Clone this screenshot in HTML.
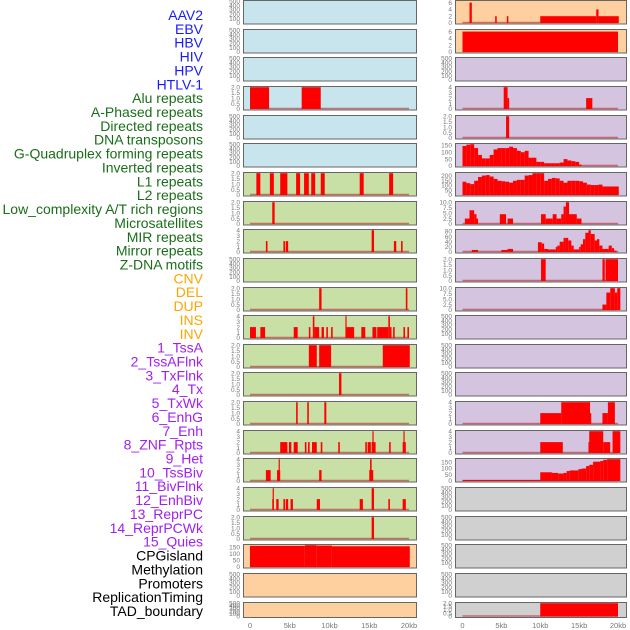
<!DOCTYPE html>
<html><head><meta charset="utf-8">
<style>
body{margin:0;background:#fff;width:630px;height:630px;overflow:hidden;font-family:"Liberation Sans",sans-serif}
svg{display:block}
</style></head>
<body>
<svg id="chart" width="630" height="630" viewBox="0 0 630 630" xmlns="http://www.w3.org/2000/svg"></svg>
<script>
// ---- labels ----
const labelNames = ["AAV2","EBV","HBV","HIV","HPV","HTLV-1","Alu repeats","A-Phased repeats","Directed repeats","DNA transposons","G-Quadruplex forming repeats","Inverted repeats","L1 repeats","L2 repeats","Low_complexity A/T rich regions","Microsatellites","MIR repeats","Mirror repeats","Z-DNA motifs","CNV","DEL","DUP","INS","INV","1_TssA","2_TssAFlnk","3_TxFlnk","4_Tx","5_TxWk","6_EnhG","7_Enh","8_ZNF_Rpts","9_Het","10_TssBiv","11_BivFlnk","12_EnhBiv","13_ReprPC","14_ReprPCWk","15_Quies","CPGisland","Methylation","Promoters","ReplicationTiming","TAD_boundary"];
const labelGroups = [6,13,5,15,5];
// ---- series data: [startKb, endKb, value] ----
const r0c2 = [[0.9,1.2,6],[4.2,4.4,2],[5.7,5.9,2],[10,17.2,2],[17.2,17.5,4],[17.5,20.1,2]];
const r1c2 = [[0,20,6]];
const r3c1 = [[0,2.4,2],[6.5,8.9,2]];
const r3c2 = [[5.3,5.8,4],[5.8,6.0,2],[15.9,16.7,2]];
const r4c2 = [[5.6,6.0,2]];
const r5c2 = [[0,0.5,145],[0.5,1,155],[1,1.5,158],[1.5,2,130],[2,2.5,80],[2.5,3,55],[3,3.5,55],[3.5,4,80],[4,4.5,120],[4.5,5,130],[5,5.5,130],[5.5,6,130],[6,6.5,140],[6.5,7,130],[7,7.5,110],[7.5,8,100],[8,8.5,110],[8.5,9,60],[9,9.5,60],[9.5,10,30],[10,10.5,30],[10.5,11,20],[11,11.5,20],[11.5,12,20],[12,12.5,20],[12.5,13,25],[13,13.5,50],[13.5,14,40],[14,14.5,35],[14.5,15,30],[15,15.3,10]];
const r6c1 = [[0.8,1.3,2],[2.5,3.0,2],[3.8,4.7,2],[5.8,6.3,2],[6.8,7.4,2],[7.7,8.2,2],[8.9,9.4,2],[13.8,14.3,2],[17.5,18,2]];
const r6c2 = [[0,0.5,140],[0.5,1,125],[1,1.5,115],[1.5,2,150],[2,2.5,190],[2.5,3,205],[3,3.5,210],[3.5,4,195],[4,4.5,170],[4.5,5,150],[5,5.5,145],[5.5,6,140],[6,6.5,130],[6.5,7,150],[7,7.5,160],[7.5,8,160],[8,8.5,205],[8.5,9,210],[9,9.5,230],[9.5,10,230],[10,10.5,230],[10.5,11,150],[11,11.5,170],[11.5,12,180],[12,12.5,175],[12.5,13,150],[13,13.5,130],[13.5,14,150],[14,14.5,150],[14.5,15,150],[15,15.5,145],[15.5,16,130],[16,16.5,110],[16.5,17,105],[17,17.5,105],[17.5,18,110],[18,20.1,90]];
const r7c1 = [[2.8,3.1,2]];
const r7c2 = [[0.3,0.9,2.5],[0.9,1.5,6.3],[1.5,1.8,4.5],[1.8,2.0,2.5],[4.8,5.6,4.5],[5.8,6.5,2.5],[10.1,10.7,4.5],[10.7,11.6,2.5],[11.6,12.1,4.5],[12.1,12.7,2.5],[12.7,13,4.5],[13,13.3,8],[13.3,13.7,10],[13.7,14.7,4.5],[14.7,15.3,2.5]];
const r8c1 = [[2.0,2.2,2],[4.2,4.4,2],[4.5,4.8,2],[15.3,15.6,4],[18.1,18.4,2],[19,19.2,2]];
const r8c2 = [[1.2,2.0,8],[5.0,5.8,8],[5.8,6.5,12],[9.7,10.2,38],[10.2,10.5,33],[10.5,11,12],[11,12,10],[12,12.2,20],[12.2,12.5,25],[12.5,13,40],[13,13.3,55],[13.3,13.6,55],[13.6,14,45],[14,14.3,25],[14.3,15,10],[15,15.2,20],[15.2,15.5,30],[15.5,15.8,50],[15.8,16.2,75],[16.2,16.5,85],[16.5,17,70],[17,17.3,45],[17.3,17.6,50],[17.6,18,25],[18,18.8,12],[18.8,19.2,25],[19.2,19.5,15],[19.5,19.8,5]];
const r9c2 = [[10.1,10.7,2],[18,18.3,2],[18.4,20,2]];
const r10c1 = [[8.7,9.0,2],[19.6,19.8,2]];
const r10c2 = [[18,18.5,2.5],[18.5,19,8],[19,19.6,10],[19.6,19.9,8],[19.9,20.3,10]];
const r11c1 = [[0,0.75,2],[1.3,1.9,2],[5.5,6.0,2],[7.4,7.6,2],[7.9,8.1,4],[8.1,8.7,2],[9.0,9.3,2],[9.6,9.8,2],[10.2,10.4,2],[12,12.1,4],[12.1,13.1,2],[14,14.5,2],[15.4,15.9,2],[16,17.4,2],[17.4,17.6,4],[17.6,17.8,2],[18,18.2,2],[19.3,19.5,2],[19.8,20,2]];
const r12c1 = [[7.4,8.4,2],[8.7,10.2,2],[16.7,20.1,2]];
const r13c1 = [[11.2,11.5,2]];
const r14c1 = [[5.8,6.0,2],[7.2,7.4,2],[9.35,9.6,2]];
const r14c2 = [[10,12.7,2],[12.7,16.4,4],[16.4,16.5,2],[18,18.7,2],[18.7,19.6,4]];
const r15c1 = [[3.8,4.7,2],[4.9,5.2,2],[5.5,6.0,2],[6.9,7.1,2],[7.3,7.5,2],[7.8,8.4,2],[8.9,9.1,2],[11.1,11.3,2],[14.5,14.7,2],[14.8,15.2,2],[15.3,15.8,2],[15.4,15.5,4],[17.5,17.7,2],[19.2,19.6,2],[19.3,19.45,4]];
const r15c2 = [[10,12.9,2],[16.2,16.3,2],[16.3,18.1,4],[18.1,19,2],[19.3,20.3,4]];
const r16c1 = [[2.0,2.6,2],[3.4,3.8,2],[3.6,3.7,4],[8.7,9.0,2],[15,15.5,2],[15.1,15.3,4]];
const r16c2 = [[0,10,8],[10,11.5,70],[11.5,12.3,65],[12.3,13,60],[13,13.4,65],[13.4,13.8,80],[13.8,14.9,85],[14.9,15.3,95],[15.3,15.9,100],[15.9,16.3,120],[16.3,16.8,130],[16.8,17.7,155],[17.7,18.1,160],[18.1,18.6,170],[18.6,20.3,175]];
const r17c1 = [[2.8,3.0,2],[2.85,2.95,4],[3.3,3.6,2],[4.2,4.4,2],[4.5,4.8,2],[5.1,5.4,2],[8.4,8.8,2],[13.8,14.2,2],[15.3,15.6,4],[17.4,17.6,2],[19.2,19.6,2]];
const r18c1 = [[15.3,15.6,2]];
const r19c1 = [[0,6.9,160],[6.9,8.4,165],[8.4,10.3,162],[10.3,20.1,157]];
const r21c2 = [[10,20,2]];
const tick500 = [0,100,200,300,400,500];
const tick2 = [0,0.5,1,1.5,2];
const tick4 = [0,1,2,3,4];
const tick6 = [0,2,4,6];
const tick150 = [0,50,100,150];
const tick200 = [0,50,100,150,200];
const tick10 = [0,2.5,5,7.5,10];
const tick80 = [0,20,40,60,80];
const xTicks = [0,5,10,15,20];
const xTickLabels = ["0","5kb","10kb","15kb","20kb"];

const BG = {b:"#c8e4ec",g:"#c8e0a6",o:"#ffd09f",p:"#d4c4e0",y:"#d0d0d0"};
// [row, col, bg, ymax, ticks, series]
const panels = [
 [0,1,'b',500,tick500,null],[0,2,'o',6.4,tick6,r0c2],
 [1,1,'b',500,tick500,null],[1,2,'o',6.4,tick6,r1c2],
 [2,1,'b',500,tick500,null],[2,2,'p',500,tick500,null],
 [3,1,'b',2,tick2,r3c1],[3,2,'p',4,tick4,r3c2],
 [4,1,'b',500,tick500,null],[4,2,'p',2,tick2,r4c2],
 [5,1,'b',500,tick500,null],[5,2,'p',158,tick150,r5c2],
 [6,1,'g',2,tick2,r6c1],[6,2,'p',230,tick200,r6c2],
 [7,1,'g',2,tick2,r7c1],[7,2,'p',10,tick10,r7c2],
 [8,1,'g',4,tick4,r8c1],[8,2,'p',85,tick80,r8c2],
 [9,1,'g',500,tick500,null],[9,2,'p',2,tick2,r9c2],
 [10,1,'g',2,tick2,r10c1],[10,2,'p',10,tick10,r10c2],
 [11,1,'g',4,tick4,r11c1],[11,2,'p',500,tick500,null],
 [12,1,'g',2,tick2,r12c1],[12,2,'p',500,tick500,null],
 [13,1,'g',2,tick2,r13c1],[13,2,'p',500,tick500,null],
 [14,1,'g',2,tick2,r14c1],[14,2,'p',4,tick4,r14c2],
 [15,1,'g',4,tick4,r15c1],[15,2,'p',4,tick4,r15c2],
 [16,1,'g',4,tick4,r16c1],[16,2,'p',175,tick150,r16c2],
 [17,1,'g',4,tick4,r17c1],[17,2,'y',500,tick500,null],
 [18,1,'g',2,tick2,r18c1],[18,2,'y',500,tick500,null],
 [19,1,'o',165,tick150,r19c1],[19,2,'y',500,tick500,null],
 [20,1,'o',500,tick500,null],[20,2,'y',500,tick500,null],
 [21,1,'o',500,tick500,null],[21,2,'y',2,tick2,r21c2]
];

const svg = document.getElementById('chart');
const NS = "http://www.w3.org/2000/svg";
function mk(tag, attrs){const e=document.createElementNS(NS,tag);for(const k in attrs)e.setAttribute(k,attrs[k]);svg.appendChild(e);return e;}

// labels
const groupColors = ["#1a1aff","#1a6e1a","#ffa500","#a020f0","#000000"];
let gi=0, cnt=0;
labelNames.forEach((name,i)=>{
  while(cnt>=labelGroups[gi]){cnt=0;gi++;}
  cnt++;
  const t = mk('text',{x:203,y:15+13.86*i+5,'text-anchor':'end','font-size':'14',fill:groupColors[gi]});
  t.textContent = name;
  
  
});

const COLS = {1:{x:243,w:174,x0:250,x20:409},2:{x:455,w:172,x0:462.5,x20:618}};
function rowTop(r){return Math.round(r*28.65);}
function rowH(r){return r===21?16:24.5;}

panels.forEach(p=>{
  const [row,col,bg,ymax,ticks,series]=p;
  const C=COLS[col], top=rowTop(row), h=rowH(row);
  const xs = kb => C.x0 + (C.x20-C.x0)*kb/20;
  const yb = top+h-1.5, yt = top+1.2;
  const ys = v => yb - (yb-yt)*v/ymax;
  const g = document.createElementNS(NS,'g'); svg.appendChild(g);
  
  
  const bgR = document.createElementNS(NS,'rect');
  bgR.setAttribute('x',C.x);bgR.setAttribute('y',top);bgR.setAttribute('width',C.w);bgR.setAttribute('height',h);bgR.setAttribute('fill',BG[bg]);
  
  
  g.appendChild(bgR);
  if(series){
    const bl=document.createElementNS(NS,'line');
    bl.setAttribute('x1',xs(0));bl.setAttribute('x2',xs(20));bl.setAttribute('y1',yb-0.5);bl.setAttribute('y2',yb-0.5);
    bl.setAttribute('stroke','rgba(190,40,40,0.6)');bl.setAttribute('stroke-width','1.5');
    
    
    g.appendChild(bl);
    series.forEach(s=>{
      const r=document.createElementNS(NS,'rect');
      const x1=xs(s[0]), x2=xs(s[1]), y=ys(s[2]);
      r.setAttribute('x',x1);r.setAttribute('width',Math.max(1.2,x2-x1));
      r.setAttribute('y',y);r.setAttribute('height',yb-y);r.setAttribute('fill','#ff0000');
      
      
      g.appendChild(r);
    });
  }
  const br=document.createElementNS(NS,'rect');
  br.setAttribute('x',C.x+0.5);br.setAttribute('y',top+0.5);br.setAttribute('width',C.w-1);br.setAttribute('height',h-1);
  br.setAttribute('fill','none');br.setAttribute('stroke','#666');br.setAttribute('stroke-width','1');
  
  
  g.appendChild(br);
  ticks.forEach(tv=>{
    const t=document.createElementNS(NS,'text');
    t.setAttribute('x',C.x-3);t.setAttribute('y',ys(tv)+2.2);t.setAttribute('text-anchor','end');
    t.setAttribute('font-size','6.5');t.setAttribute('fill','#777');
    t.textContent=String(tv===0?'0':(ticks.includes(0.5)||ticks.includes(2.5))?tv.toFixed(1):tv);
    
    
    g.appendChild(t);
  });
});

[1,2].forEach(col=>{
  const C=COLS[col];
  xTicks.forEach((kb,i)=>{
    const t=mk('text',{x:C.x0+(C.x20-C.x0)*kb/20,y:628,'text-anchor':'middle','font-size':'7.5',fill:'#777'});
    t.textContent=xTickLabels[i];
    
    
  });
});
</script>
</body></html>
